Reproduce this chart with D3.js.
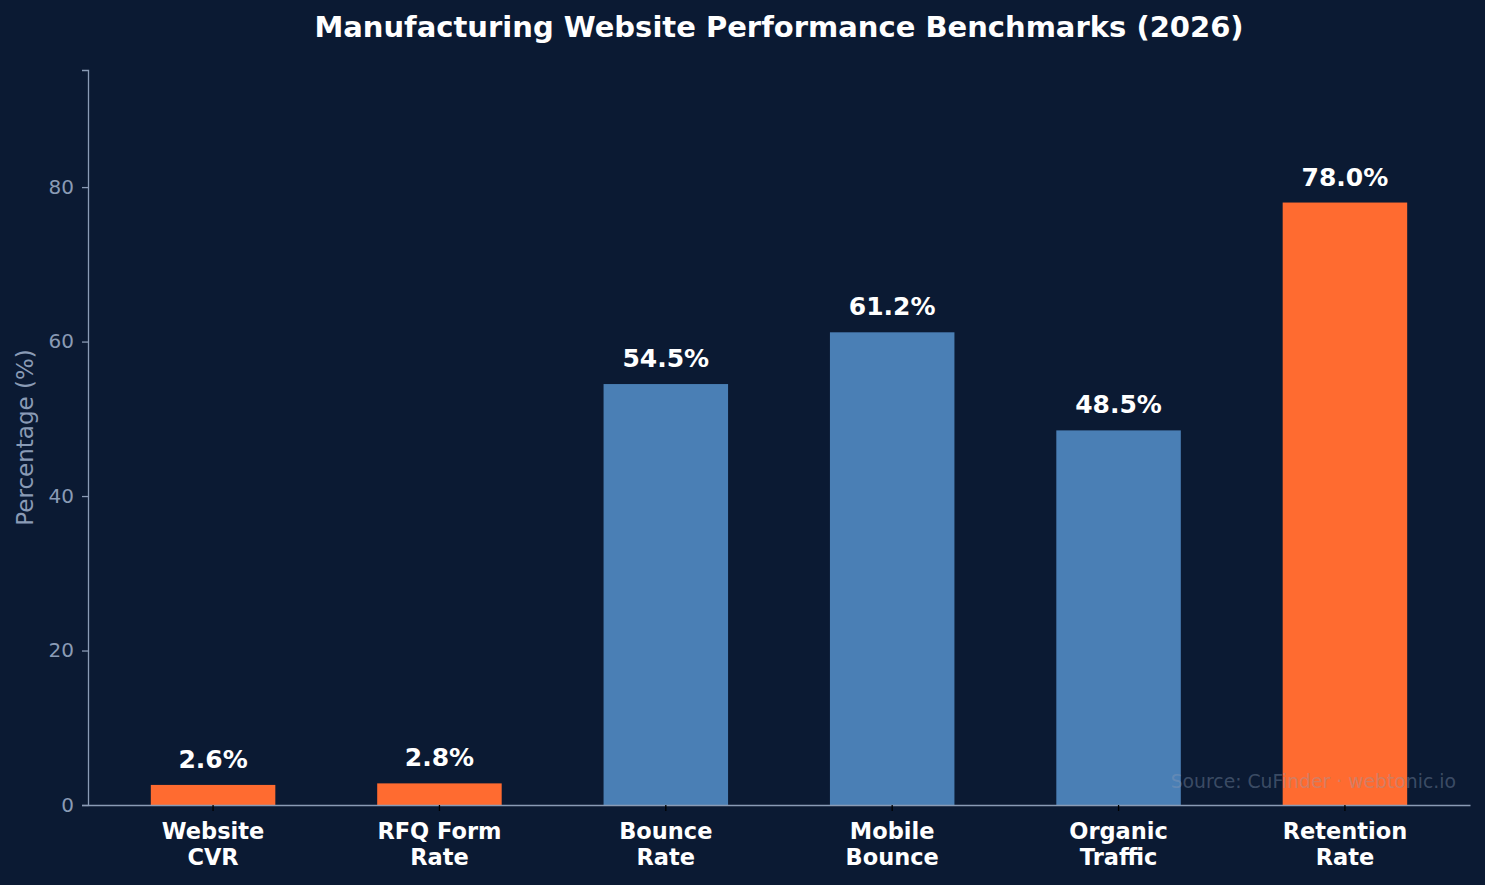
<!DOCTYPE html>
<html>
<head>
<meta charset="utf-8">
<script src="https://cdn.jsdelivr.net/npm/d3@7"></script>
<style>
  body { margin: 0; background: #0b1a33; }
  text { font-family: "DejaVu Sans", sans-serif; }
</style>
</head>
<body>
<div id="chart"></div>
<script>
// Chart data
const categories = ["Website\nCVR", "RFQ Form\nRate", "Bounce\nRate", "Mobile\nBounce", "Organic\nTraffic", "Retention\nRate"];
const values = [2.6, 2.8, 54.5, 61.2, 48.5, 78.0];
const highlight = [true, true, false, false, false, true];
const yTicks = [0, 20, 40, 60, 80];

const width = 1485, height = 885;
const margin = { top: 70, right: 15, bottom: 80, left: 88 };

const svg = d3.select("#chart").append("svg")
  .attr("width", width)
  .attr("height", height);

svg.append("rect").attr("width", width).attr("height", height).attr("fill", "#0b1a33");

// bar width 0.55 of step, plus 5% margin each side
const x = d3.scaleBand()
  .domain(categories)
  .range([margin.left, width - margin.right])
  .paddingInner(0.45)
  .paddingOuter(0.2775);

const y = d3.scaleLinear()
  .domain([0, 95.16])
  .range([height - margin.bottom, margin.top]);

// bars
svg.selectAll("rect.bar")
  .data(values)
  .enter()
  .append("rect")
  .attr("class", "bar")
  .attr("x", function(d, i) { return x(categories[i]); })
  .attr("y", function(d) { return y(d); })
  .attr("width", x.bandwidth())
  .attr("height", function(d) { return y(0) - y(d); })
  .attr("fill", function(d, i) { return highlight[i] ? "#ff6b30" : "#4a7fb5"; });

// value labels
svg.selectAll("text.val")
  .data(values)
  .enter()
  .append("text")
  .attr("class", "val")
  .attr("x", function(d, i) { return x(categories[i]) + x.bandwidth() / 2; })
  .attr("y", function(d) { return y(d) - 17; })
  .attr("text-anchor", "middle")
  .attr("font-size", 25)
  .attr("font-weight", "bold")
  .attr("fill", "#ffffff")
  .text(function(d) { return d.toFixed(1) + "%"; });

// y axis
const yAxis = svg.append("g")
  .attr("transform", "translate(" + margin.left + ",0)")
  .call(d3.axisLeft(y).tickValues(yTicks).tickSize(6).tickPadding(8));
yAxis.select(".domain").attr("stroke", "#8a9bb5").attr("stroke-width", 1.3);
yAxis.selectAll(".tick line").attr("stroke", "#8a9bb5").attr("stroke-width", 1.3);
yAxis.selectAll(".tick text").attr("fill", "#8a9bb5").attr("font-size", 20)
  .attr("font-family", "DejaVu Sans, sans-serif");

// x axis
const xAxis = svg.append("g")
  .attr("transform", "translate(0," + (height - margin.bottom) + ")")
  .call(d3.axisBottom(x).tickSize(6).tickSizeOuter(0).tickFormat(""));
xAxis.select(".domain").attr("stroke", "#8a9bb5").attr("stroke-width", 1.3);
xAxis.selectAll(".tick line").attr("stroke", "#000000").attr("stroke-width", 1.3);

xAxis.selectAll(".tick").each(function(d) {
  const lines = d.split("\n");
  const t = d3.select(this).append("text")
    .attr("text-anchor", "middle")
    .attr("fill", "#ffffff")
    .attr("font-size", 22.5)
    .attr("font-weight", "bold")
    .attr("font-family", "DejaVu Sans, sans-serif");
  lines.forEach(function(line, i) {
    t.append("tspan").attr("x", 0).attr("y", 34 + i * 26).text(line);
  });
});

// y label
svg.append("text")
  .attr("transform", "translate(33," + ((margin.top + height - margin.bottom) / 2) + ") rotate(-90)")
  .attr("text-anchor", "middle")
  .attr("font-size", 23)
  .attr("fill", "#8a9bb5")
  .text("Percentage (%)");

// title
svg.append("text")
  .attr("x", (margin.left + width - margin.right) / 2)
  .attr("y", 37)
  .attr("text-anchor", "middle")
  .attr("font-size", 29)
  .attr("font-weight", "bold")
  .attr("fill", "#ffffff")
  .text("Manufacturing Website Performance Benchmarks (2026)");

// source
svg.append("text")
  .attr("x", width - margin.right - 14)
  .attr("y", height - margin.bottom - 17)
  .attr("text-anchor", "end")
  .attr("font-size", 18.8)
  .attr("fill", "#8a9bb5")
  .attr("fill-opacity", 0.4)
  .text("Source: CuFinder · webtonic.io");
</script>
</body>
</html>
